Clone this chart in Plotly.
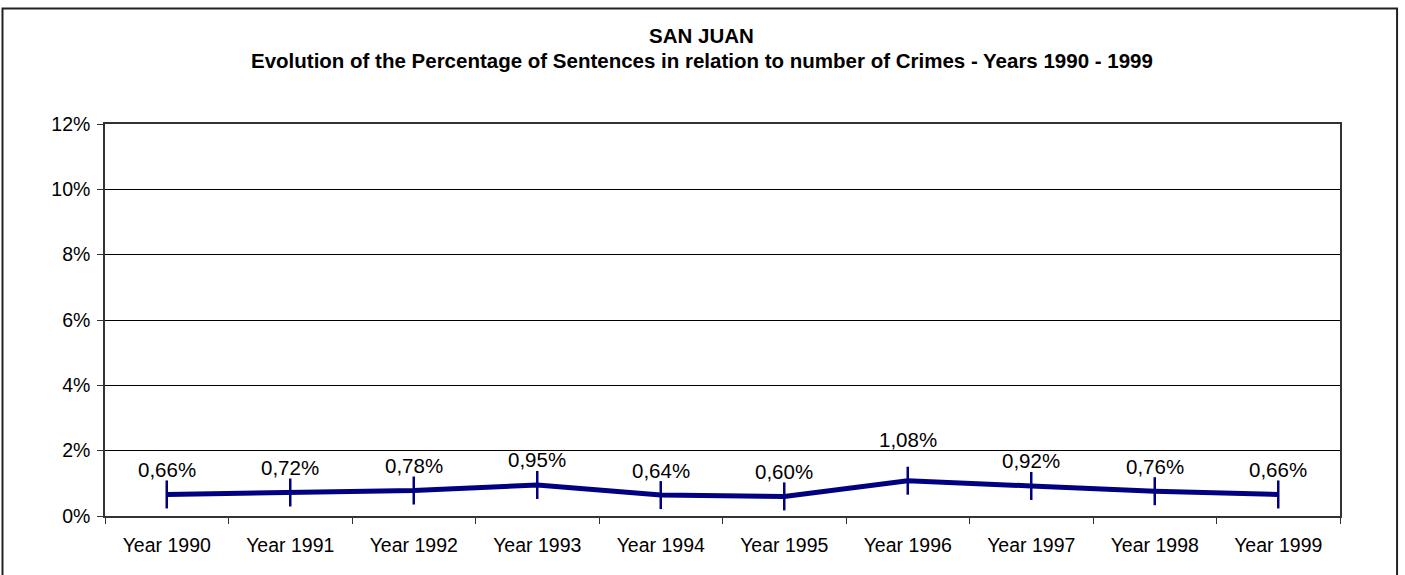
import plotly.graph_objects as go

# Data: sentences as a percentage of recorded crimes, San Juan
years = ["Year 1990", "Year 1991", "Year 1992", "Year 1993", "Year 1994",
         "Year 1995", "Year 1996", "Year 1997", "Year 1998", "Year 1999"]
pct = [0.66, 0.72, 0.78, 0.95, 0.64, 0.60, 1.08, 0.92, 0.76, 0.66]
y_ticks = [0, 2, 4, 6, 8, 10, 12]
y_tick_text = [f"{t}%" for t in y_ticks]

title_line1 = "SAN JUAN"
title_line2 = ("Evolution of the Percentage of Sentences in relation to "
               "number of Crimes - Years 1990 - 1999")

FONT = "Liberation Sans, Arial, sans-serif"
NAVY = "#000080"

fig = go.Figure()
fig.add_trace(go.Scatter(
    x=years, y=pct, mode="lines+markers",
    line=dict(color=NAVY, width=5),
    marker=dict(symbol="line-ns", size=20, color=NAVY,
                line=dict(color=NAVY, width=2.5)),
    hoverinfo="skip", showlegend=False,
))

# value labels above each point, comma as decimal separator;
# the label that would sit on the 2% gridline is lifted clear of it
for yr, v in zip(years, pct):
    shift = 41 if v > 1.0 else 25
    fig.add_annotation(x=yr, y=v, text=f"{v:.2f}".replace(".", ",") + "%",
                       showarrow=False, yshift=shift,
                       font=dict(family=FONT, size=20.5, color="#000"))

# two-line bold heading, centred on the page
for txt, ypos in ((title_line1, 1.225), (title_line2, 1.161)):
    fig.add_annotation(text=f"<b>{txt}</b>", xref="paper", yref="paper",
                       x=0.4834, y=ypos, xanchor="center", yanchor="middle",
                       showarrow=False,
                       font=dict(family=FONT, size=20.5, color="#000"))

fig.update_layout(
    width=1405, height=575,
    margin=dict(l=105, r=65, t=124, b=59),
    paper_bgcolor="white", plot_bgcolor="white",
    font=dict(family=FONT, color="#000"),
)

fig.update_xaxes(
    type="category", range=[-0.5, len(years) - 0.5],
    tickson="boundaries", ticks="outside", ticklen=6,
    tickcolor="#333", tickwidth=1, showgrid=False, ticklabelstandoff=11,
    showline=True, linecolor="#333", linewidth=1.5, mirror=True,
    tickfont=dict(family=FONT, size=19.5, color="#000"),
)
fig.update_yaxes(
    range=[0, 12], tickmode="array", tickvals=y_ticks, ticktext=y_tick_text,
    ticks="outside", ticklen=6, tickcolor="#333", tickwidth=1,
    ticklabelstandoff=3,
    showgrid=True, gridcolor="#000", gridwidth=1, zeroline=False,
    showline=True, linecolor="#333", linewidth=1.5, mirror=True,
    tickfont=dict(family=FONT, size=19.5, color="#000"),
)

# frame around the whole chart
fig.add_shape(type="rect", xref="paper", yref="paper",
              x0=-0.083, x1=1.0462, y0=-0.17, y1=1.2946,
              line=dict(color="#222", width=2), layer="above")

fig.write_html("out.html")
